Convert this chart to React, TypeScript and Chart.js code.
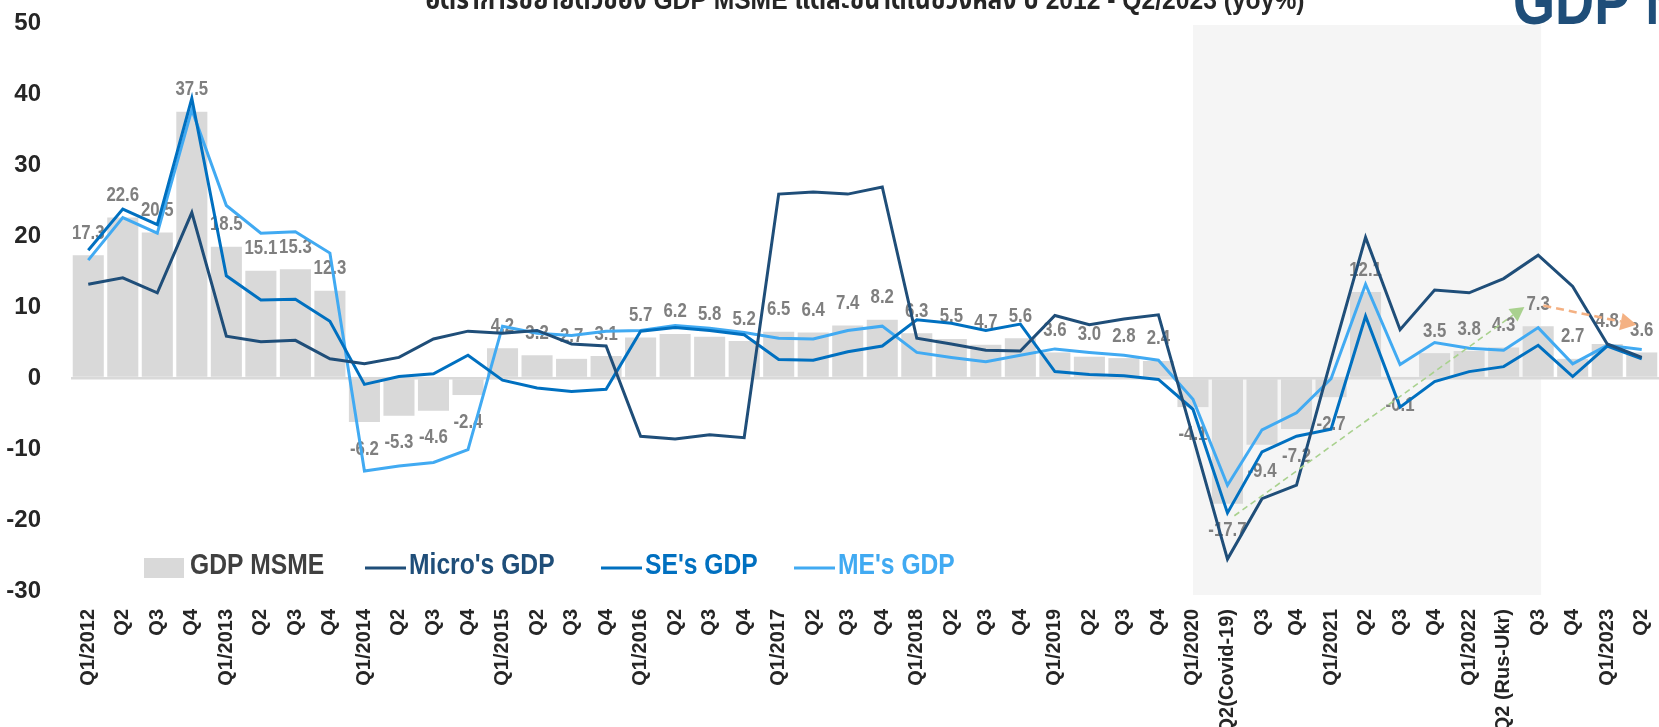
import React, { useEffect, useRef } from "react";
import { Chart, registerables } from "chart.js";

Chart.register(...registerables);

// ---------------- data ----------------
const categories = [
  "Q1/2012", "Q2", "Q3", "Q4",
  "Q1/2013", "Q2", "Q3", "Q4",
  "Q1/2014", "Q2", "Q3", "Q4",
  "Q1/2015", "Q2", "Q3", "Q4",
  "Q1/2016", "Q2", "Q3", "Q4",
  "Q1/2017", "Q2", "Q3", "Q4",
  "Q1/2018", "Q2", "Q3", "Q4",
  "Q1/2019", "Q2", "Q3", "Q4",
  "Q1/2020", "Q2(Covid-19)", "Q3", "Q4",
  "Q1/2021", "Q2", "Q3", "Q4",
  "Q1/2022", "Q2 (Rus-Ukr)", "Q3", "Q4",
  "Q1/2023", "Q2",
];

const gdpMsme = [
  17.3, 22.6, 20.5, 37.5,
  18.5, 15.1, 15.3, 12.3,
  -6.2, -5.3, -4.6, -2.4,
  4.2, 3.2, 2.7, 3.1,
  5.7, 6.2, 5.8, 5.2,
  6.5, 6.4, 7.4, 8.2,
  6.3, 5.5, 4.7, 5.6,
  3.6, 3.0, 2.8, 2.4,
  -4.1, -17.7, -9.4, -7.2,
  -2.7, 12.1, -0.1, 3.5,
  3.8, 4.3, 7.3, 2.7,
  4.8, 3.6,
];

const microGdp = [
  13.2, 14.1, 12.0, 23.3,
  5.9, 5.1, 5.3, 2.7,
  2.0, 2.9, 5.5, 6.6,
  6.3, 6.7, 4.8, 4.5,
  -8.2, -8.6, -8.0, -8.4,
  25.9, 26.2, 25.9, 26.9,
  5.6, 4.8, 3.9, 3.8,
  8.8, 7.5, 8.3, 8.9,
  -8.3, -25.5, -17.0, -15.1,
  2.6, 19.8, 6.8, 12.4,
  12.0, 14.0, 17.3, 12.9,
  4.8, 2.9,
];

const seGdp = [
  18.0, 23.8, 21.6, 39.4,
  14.4, 11.0, 11.1, 8.0,
  -0.9, 0.2, 0.6, 3.2,
  -0.3, -1.4, -1.9, -1.6,
  6.6, 7.1, 6.7, 6.1,
  2.6, 2.5, 3.7, 4.5,
  8.2, 7.7, 6.7, 7.6,
  0.9, 0.5, 0.3, -0.2,
  -4.4, -19.0, -10.4, -8.2,
  -7.2, 8.7, -4.1, -0.5,
  0.9, 1.6, 4.6, 0.2,
  4.5, 2.7,
];

const meGdp = [
  16.6, 22.6, 20.4, 37.8,
  24.3, 20.4, 20.6, 17.6,
  -13.1, -12.4, -11.9, -10.1,
  7.3, 6.3, 6.0, 6.6,
  6.7, 7.4, 7.0, 6.4,
  5.6, 5.5, 6.7, 7.3,
  3.6, 2.9, 2.3, 3.2,
  4.1, 3.6, 3.2, 2.5,
  -3.0, -15.1, -7.3, -4.9,
  -0.1, 13.2, 1.9, 5.0,
  4.2, 3.9, 7.1, 2.0,
  4.6, 4.0,
];

const yMin = -30;
const yMax = 50;
const yStep = 10;

// shaded period (category indices)
const shadedPeriod = [32, 42];
// trend arrows: [categoryIndex, value] start -> end
const greenArrow = [[33.2, -19.4], [41.6, 10.0]];
const orangeArrow = [[42.15, 10.2], [44.85, 7.5]];

const titleText = "อัตราการขยายตัวของ GDP MSME แต่ละขนาดในช่วงหลัง ปี 2012 - Q2/2023 (yoy%)";
const cornerText = "GDP MSME";

const legendItems = [
  { label: "GDP MSME", kind: "box", color: "#d9d9d9", text: "#404040" },
  { label: "Micro's GDP", kind: "line", color: "#1f4e79", text: "#1f4e79" },
  { label: "SE's GDP", kind: "line", color: "#0070c0", text: "#0070c0" },
  { label: "ME's GDP", kind: "line", color: "#41aaf2", text: "#41aaf2" },
];
const legendX = [144, 365, 601, 794];

// ---------------- styles ----------------
const SANS = "'Liberation Sans', Arial, 'Noto Sans Thai', 'DejaVu Sans', sans-serif";

function fillSqueezed(ctx: CanvasRenderingContext2D, text: string, x: number, y: number, sx: number) {
  ctx.save();
  ctx.translate(x, y);
  ctx.scale(sx, 1);
  ctx.fillText(text, 0, 0);
  ctx.restore();
}

function drawArrow(ctx: CanvasRenderingContext2D, x0: number, y0: number, x1: number, y1: number, color: string, width: number, dash: number[], head: number) {
  const ang = Math.atan2(y1 - y0, x1 - x0);
  const bx = x1 - Math.cos(ang) * head;
  const by = y1 - Math.sin(ang) * head;
  ctx.save();
  ctx.strokeStyle = color;
  ctx.lineWidth = width;
  ctx.setLineDash(dash);
  ctx.beginPath();
  ctx.moveTo(x0, y0);
  ctx.lineTo(bx, by);
  ctx.stroke();
  ctx.setLineDash([]);
  ctx.fillStyle = color;
  ctx.beginPath();
  const w = head * 0.55;
  ctx.moveTo(x1, y1);
  ctx.lineTo(bx + Math.cos(ang + Math.PI / 2) * w, by + Math.sin(ang + Math.PI / 2) * w);
  ctx.lineTo(bx - Math.cos(ang + Math.PI / 2) * w, by - Math.sin(ang + Math.PI / 2) * w);
  ctx.closePath();
  ctx.fill();
  ctx.restore();
}

const decorPlugin = {
  id: "decor",
  beforeDraw(chart: any) {
    const { ctx, chartArea, scales } = chart;
    const x = scales.x;
    const x0 = x.getPixelForValue(shadedPeriod[0]);
    const x1 = x.getPixelForValue(shadedPeriod[1]);
    ctx.save();
    ctx.fillStyle = "#f5f5f5";
    ctx.fillRect(x0, chartArea.top + 2, x1 - x0 + 3, chartArea.bottom - chartArea.top + 2);
    ctx.restore();
  },
  afterDatasetDraw(chart: any, args: any) {
    if (args.index !== 0) return;
    const { ctx } = chart;
    const meta = chart.getDatasetMeta(0);
    ctx.save();
    ctx.font = `bold 20px ${SANS}`;
    ctx.fillStyle = "#7f7f7f";
    ctx.textAlign = "center";
    ctx.textBaseline = "middle";
    meta.data.forEach((el: any, i: number) => {
      const v = gdpMsme[i];
      const yy = v >= 0 ? el.y - 22 : el.y + 27;
      fillSqueezed(ctx, v.toFixed(1), el.x, yy, 0.84);
    });
    ctx.restore();
  },
  afterDatasetsDraw(chart: any) {
    const { ctx, scales } = chart;
    const { x, y } = scales;
    const px = (p: number[]) => [x.getPixelForValue(p[0]), y.getPixelForValue(p[1])];
    const g0 = px(greenArrow[0]);
    const g1 = px(greenArrow[1]);
    drawArrow(ctx, g0[0], g0[1], g1[0], g1[1], "#a9d18e", 1.6, [6, 4], 14);
    const o0 = px(orangeArrow[0]);
    const o1 = px(orangeArrow[1]);
    drawArrow(ctx, o0[0], o0[1], o1[0], o1[1], "#f4b183", 2.6, [8, 5], 16);
  },
  afterDraw(chart: any) {
    const { ctx } = chart;
    ctx.save();
    // title (cut at top)
    ctx.font = `bold 28px ${SANS}`;
    ctx.fillStyle = "#262626";
    ctx.textAlign = "center";
    ctx.textBaseline = "alphabetic";
    fillSqueezed(ctx, titleText, 865, 9, 0.88);
    // big corner text
    ctx.font = `bold 66px ${SANS}`;
    ctx.fillStyle = "#1f4e79";
    ctx.textAlign = "left";
    fillSqueezed(ctx, cornerText, 1513, 24, 0.82);
    // legend
    const ly = 568;
    ctx.font = `bold 29px ${SANS}`;
    ctx.textBaseline = "middle";
    legendItems.forEach((it, i) => {
      const lx = legendX[i];
      let tx = lx;
      if (it.kind === "box") {
        ctx.fillStyle = it.color;
        ctx.fillRect(lx, ly - 10, 40, 20);
        tx = lx + 46;
      } else {
        ctx.strokeStyle = it.color;
        ctx.lineWidth = 3;
        ctx.beginPath();
        ctx.moveTo(lx, ly);
        ctx.lineTo(lx + 41, ly);
        ctx.stroke();
        tx = lx + 44;
      }
      ctx.fillStyle = it.text;
      fillSqueezed(ctx, it.label, tx, ly - 2, 0.85);
    });
    ctx.restore();
  },
};

export default function App() {
  const canvasRef = useRef<HTMLCanvasElement | null>(null);

  useEffect(() => {
    const canvas = canvasRef.current;
    if (!canvas) return;
    const chart = new Chart(canvas, {
      type: "bar",
      data: {
        labels: categories,
        datasets: [
          {
            type: "bar",
            label: "GDP MSME",
            data: gdpMsme,
            backgroundColor: "#d9d9d9",
            barPercentage: 0.9,
            categoryPercentage: 1.0,
            order: 10,
          },
          {
            type: "line",
            label: "ME's GDP",
            data: meGdp,
            borderColor: "#41aaf2",
            borderWidth: 3,
            pointRadius: 0,
            tension: 0,
            fill: false,
            order: 3,
          },
          {
            type: "line",
            label: "SE's GDP",
            data: seGdp,
            borderColor: "#0070c0",
            borderWidth: 3,
            pointRadius: 0,
            tension: 0,
            fill: false,
            order: 2,
          },
          {
            type: "line",
            label: "Micro's GDP",
            data: microGdp,
            borderColor: "#1f4e79",
            borderWidth: 3,
            pointRadius: 0,
            tension: 0,
            fill: false,
            order: 1,
          },
        ] as any,
      },
      options: {
        animation: false,
        responsive: false,
        maintainAspectRatio: false,
        devicePixelRatio: 1,
        layout: { padding: { top: 23, left: 0, right: 0, bottom: 0 } },
        plugins: {
          legend: { display: false },
          tooltip: { enabled: false },
          title: { display: false },
        },
        scales: {
          x: {
            type: "category",
            offset: true,
            grid: { display: false, drawTicks: false },
            border: { display: false },
            ticks: {
              autoSkip: false,
              maxRotation: 90,
              minRotation: 90,
              padding: 18,
              color: "#262626",
              font: { family: SANS, size: 20, weight: "bold" },
            },
            afterFit: (s: any) => {
              s.height = 136;
              s.paddingLeft = 0;
              s.paddingRight = 0;
            },
          },
          y: {
            min: yMin,
            max: yMax,
            ticks: {
              stepSize: yStep,
              padding: 30,
              color: "#262626",
              font: { family: SANS, size: 24, weight: "bold" },
            },
            grid: {
              drawTicks: false,
              lineWidth: 2.5,
              color: (c: any) => (c.tick && c.tick.value === 0 ? "#d9d9d9" : "rgba(0,0,0,0)"),
            },
            border: { display: false },
            afterFit: (s: any) => {
              s.width = 71;
              s.paddingTop = 0;
              s.paddingBottom = 0;
            },
          },
        },
      } as any,
      plugins: [decorPlugin],
    });
    return () => chart.destroy();
  }, []);

  return (
    <div style={{ position: "absolute", left: 0, top: 0, width: 1659, height: 727, overflow: "hidden", background: "#fff" }}>
      <canvas ref={canvasRef} width={1659} height={727} style={{ display: "block", width: 1659, height: 727 }} />
    </div>
  );
}
